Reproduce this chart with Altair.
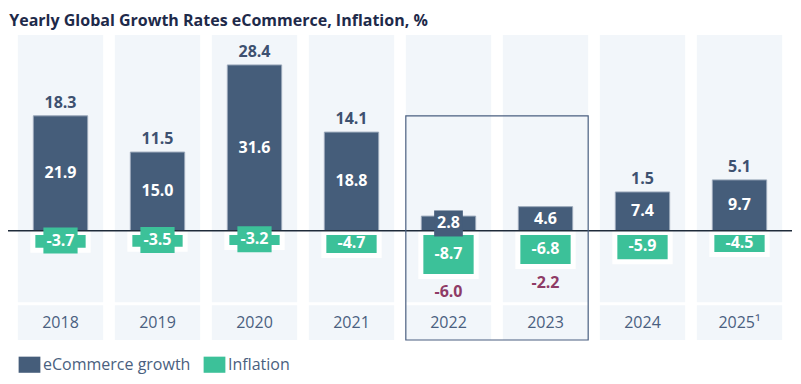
import altair as alt
import pandas as pd

years = ["2018", "2019", "2020", "2021", "2022", "2023", "2024", "2025¹"]
growth = [21.9, 15.0, 31.6, 18.8, 2.8, 4.6, 7.4, 9.7]
inflation = [-3.7, -3.5, -3.2, -4.7, -8.7, -6.8, -5.9, -4.5]
real_growth = [18.3, 11.5, 28.4, 14.1, -6.0, -2.2, 1.5, 5.1]
series = ["eCommerce growth", "Inflation"]
highlight = ["2022", "2023"]

df = pd.DataFrame({
    "i": list(range(len(years))),
    "year": years,
    "growth": growth,
    "inflation": inflation,
    "real": real_growth,
})

FONT = "Open Sans"
BLUE = "#455d7a"
GREEN = "#3cc199"
PANEL = "#f2f6fa"
TXT = "#4a5f80"

ymin, ymax = -20.8, 37.3
PX_X = 97.0      # pixels per x unit
PX_Y = 305.0 / (ymax - ymin)  # pixels per y unit
xs = alt.Scale(domain=[-0.5, 7.5], nice=False, zero=False)
ys = alt.Scale(domain=[ymin, ymax], nice=False, zero=False)


def lbl(field):
    return f"replace(format(datum.{field}, '.1f'), '\u2212', '-')"


base = alt.Chart(df).transform_calculate(
    c0="datum.i - 0.44", c1="datum.i + 0.44",
    b0="datum.i - 0.28", b1="datum.i + 0.28",
    g0="datum.i - 0.285", g1="datum.i + 0.285",
    half_g="datum.growth / 2", half_i="datum.inflation / 2",
    lg=lbl("growth"), li=lbl("inflation"), lr=lbl("real"),
)

panel = base.mark_rect(color=PANEL).encode(
    x=alt.X("c0:Q", scale=xs, axis=None), x2="c1:Q",
    y=alt.Y("top:Q", scale=ys, axis=None), y2="bot:Q",
).transform_calculate(top=str(ymax), bot="-13.6")

yearband = base.mark_rect(color=PANEL).encode(
    x=alt.X("c0:Q", scale=xs, axis=None), x2="c1:Q",
    y=alt.Y("top:Q", scale=ys, axis=None), y2="bot:Q",
).transform_calculate(top="-14.2", bot=str(ymin))

yeartext = base.mark_text(font=FONT, fontSize=16, color=TXT, baseline="middle").encode(
    x=alt.X("i:Q", scale=xs, axis=None),
    y=alt.Y("yy:Q", scale=ys, axis=None),
    text="year:N",
).transform_calculate(yy="-17.5")

color_scale = alt.Scale(domain=series, range=[BLUE, GREEN])
legend = alt.Legend(
    title=None, orient="none", legendX=9, legendY=321, direction="horizontal",
    symbolType="M-1.35,-1H1.35V1H-1.35Z", symbolSize=260, symbolStrokeWidth=0,
    symbolOpacity=1, labelFont=FONT, labelFontSize=16, labelColor=TXT,
    labelOffset=5, columnPadding=12, padding=0,
)

blue = base.mark_rect(stroke="#9aa8ba", strokeWidth=1).encode(
    x=alt.X("b0:Q", scale=xs, axis=None), x2="b1:Q",
    y=alt.Y("growth:Q", scale=ys, axis=None), y2=alt.datum(0),
    color=alt.Color("s:N", scale=color_scale, legend=legend),
).transform_calculate(s="'eCommerce growth'")

green = base.mark_rect(stroke="white", strokeWidth=5).encode(
    x=alt.X("g0:Q", scale=xs, axis=None), x2="g1:Q",
    y=alt.Y("inflation:Q", scale=ys, axis=None), y2=alt.datum(-0.3),
    color=alt.Color("s:N", scale=color_scale, legend=legend),
).transform_calculate(s="'Inflation'")

zero = alt.Chart(pd.DataFrame({"z": [0]})).mark_rule(color="#1f2b3a", strokeWidth=1.5).encode(
    y=alt.Y("z:Q", scale=ys, axis=None), x=alt.value(-4), x2=alt.value(780)
)


def label_box(field, label, color):
    # label background shown when the bar is too short to hold its label
    neg = f"(datum.{field} < 0 ? 1 : 0)"
    hw = f"(9.2 * (length(datum.{label}) - 1 - {neg}) + 4.3 + 5.5 * {neg} + 6) / {PX_X} / 2"
    hh = 13.0 / PX_Y
    return base.transform_filter(
        f"abs(datum.{field}) * {PX_Y} < 22"
    ).transform_calculate(
        bx0=f"datum.i - {hw}", bx1=f"datum.i + {hw}",
        by0=f"datum.{field} / 2 - {hh}", by1=f"datum.{field} / 2 + {hh}",
    ).mark_rect(color=color).encode(
        x=alt.X("bx0:Q", scale=xs, axis=None), x2="bx1:Q",
        y=alt.Y("by0:Q", scale=ys, axis=None), y2="by1:Q",
    )


box_g = label_box("growth", "lg", BLUE)
box_i = label_box("inflation", "li", GREEN)

in_blue = base.mark_text(font=FONT, fontSize=16, fontWeight="bold", color="white", baseline="middle").encode(
    x=alt.X("i:Q", scale=xs, axis=None),
    y=alt.Y("half_g:Q", scale=ys, axis=None),
    text="lg:N",
)
in_green = base.mark_text(font=FONT, fontSize=16, fontWeight="bold", color="white", baseline="middle").encode(
    x=alt.X("i:Q", scale=xs, axis=None),
    y=alt.Y("half_i:Q", scale=ys, axis=None),
    text="li:N",
)
top_pos = base.transform_filter("datum.real >= 0").mark_text(
    font=FONT, fontSize=16, fontWeight="bold", color="#3e5170", baseline="alphabetic", dy=-8
).encode(
    x=alt.X("i:Q", scale=xs, axis=None),
    y=alt.Y("growth:Q", scale=ys, axis=None),
    text="lr:N",
)
top_neg = base.transform_filter("datum.real < 0").mark_text(
    font=FONT, fontSize=16, fontWeight="bold", color="#8e3b66", baseline="alphabetic", dy=21
).encode(
    x=alt.X("i:Q", scale=xs, axis=None),
    y=alt.Y("inflation:Q", scale=ys, axis=None),
    text="lr:N",
)

box_df = pd.DataFrame({"y0": [highlight[0]], "y1": [highlight[1]]})
box = alt.Chart(box_df).transform_calculate(
    a=f"indexof({years}, datum.y0) - 0.44".replace("'", '"'),
    b=f"indexof({years}, datum.y1) + 0.44".replace("'", '"'),
    t="21.9", bt=str(ymin),
).mark_rect(fill=None, stroke="#4a5f80", strokeWidth=1.2).encode(
    x=alt.X("a:Q", scale=xs, axis=None), x2="b:Q",
    y=alt.Y("t:Q", scale=ys, axis=None), y2="bt:Q",
)

chart = alt.layer(
    panel, yearband, yeartext, blue, green, zero, box_i, box_g,
    in_blue, in_green, top_pos, top_neg, box
).properties(
    width=776, height=305,
    autosize=alt.AutoSizeParams(type="none"),
    padding={"left": 4, "top": 27, "right": 5, "bottom": 40},
    title=alt.TitleParams(
        "Yearly Global Growth Rates eCommerce, Inflation, %",
        anchor="start", font=FONT, fontSize=16, fontWeight="bold", color="#1e2a4a",
        offset=6, dx=2,
    ),
).configure_view(stroke=None)

chart.save("out.html", embed_options={"renderer": "svg", "actions": False})
